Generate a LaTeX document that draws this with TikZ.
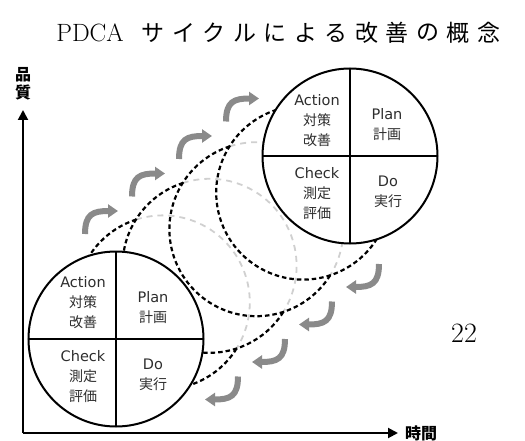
\documentclass[tikz,border=0pt]{standalone}
\usepackage{fontspec}
\newfontfamily\cjk{Noto Sans CJK JP}
\newfontfamily\lat{DejaVu Sans}
\usetikzlibrary{arrows.meta}
\definecolor{arrowgray}{RGB}{138,138,138}
\definecolor{dashgray}{RGB}{208,208,208}
\definecolor{txt}{RGB}{45,45,45}
\newcommand\LA[1]{{\lat\fontsize{14.5}{20}\selectfont #1}}
\newcommand\JA[1]{{\cjk\fontsize{14}{20}\selectfont #1}}
\tikzset{
  blackdash/.style={line width=2.2pt, dash pattern=on 4.5pt off 3pt, black},
  graydash/.style={line width=1.8pt, dash pattern=on 6pt off 5pt, dashgray},
  wheel/.style={circle, draw, fill=white, line width=2pt, minimum size=175pt, inner sep=0pt, outer sep=0pt},
  divider/.style={line width=2pt},
  cyclearrow/.style={arrowgray, line width=6pt, -{Triangle[length=10pt,width=13pt]}},
  axis/.style={line width=2pt, -{Triangle[length=10pt,width=10pt]}},
  quad/.style={align=center, text=txt, inner sep=0pt, font=\cjk\fontsize{14}{20}\selectfont},
  axislabel/.style={inner sep=0pt, align=center, font=\cjk\bfseries\fontsize{16}{18}\selectfont},
}
\begin{document}
\begin{tikzpicture}[x=1pt,y=-1pt]
\useasboundingbox (0,0) rectangle (525,441);
% title
\node[anchor=base, inner sep=0pt, font=\fontsize{25}{30}\selectfont\addfontfeature{LetterSpace=10}] (ttl) at (90,42) {PDCA};
\foreach \c [count=\i] in {サ,イ,ク,ル,に,よ,る,改,善,の,概,念}
  \node[inner sep=0pt, font=\cjk\fontsize{23}{26}\selectfont] (t\i) at ({153+30.5*(\i-1)},33) {\c};
\node[inner sep=0pt, font=\fontsize{28}{30}\selectfont] (pg) at (464,333) {22};
% axes
\coordinate (O) at (23,433);
\coordinate (ytip) at (23,110);
\coordinate (xtip) at (398,433);
\draw[axis] (O) -- (ytip);
\draw[axis] (O) -- (xtip);
\node[axislabel] (ql) at (23,84) {品\\質};
\node[axislabel] (tl) at (421,433) {時間};
% intermediate circles
\coordinate (c1) at (162.8,302.4);
\coordinate (c2) at (209.6,265.8);
\coordinate (c3) at (256.4,229.2);
\coordinate (c4) at (303.2,192.6);
\foreach \n in {c1,c2,c3,c4}
  \draw[graydash] (\n) ++(-108:87) arc[start angle=-108, end angle=32, radius=87];
\foreach \n in {c1,c2,c3,c4}
  \draw[blackdash] (\n) ++(32:87) arc[start angle=32, end angle=252, radius=87];
% wheels
\node[wheel] (A) at (116,339) {};
\node[wheel] (B) at (350,156) {};
\foreach \w in {A,B} {
  \draw[divider] (\w.north) -- (\w.south);
  \draw[divider] (\w.west) -- (\w.east);
}
% wheel texts
\node[quad] (Aact) at (83,303) {\LA{Action}\\\JA{対策}\\\JA{改善}};
\node[quad] (Apl) at (153,308) {\LA{Plan}\\\JA{計画}};
\node[quad] (Ach) at (83,377) {\LA{Check}\\\JA{測定}\\\JA{評価}};
\node[quad] (Ado) at (153,375) {\LA{Do}\\\JA{実行}};
\node[quad] (Bact) at (317,121) {\LA{Action}\\\JA{対策}\\\JA{改善}};
\node[quad] (Bpl) at (387,125) {\LA{Plan}\\\JA{計画}};
\node[quad] (Bch) at (317,194) {\LA{Check}\\\JA{測定}\\\JA{評価}};
\node[quad] (Bdo) at (388,192) {\LA{Do}\\\JA{実行}};
% cycle arrows
\foreach \k in {0,1,2,3} {
  \draw[cyclearrow, shift={(47*\k,-37.5*\k)}] (85,234) .. controls (85,214) and (93,211) .. (118,211);
  \draw[cyclearrow, shift={(-47*\k,37.5*\k)}] (379,264) .. controls (379,284) and (371,287) .. (346,287);
}
\end{tikzpicture}
\end{document}
